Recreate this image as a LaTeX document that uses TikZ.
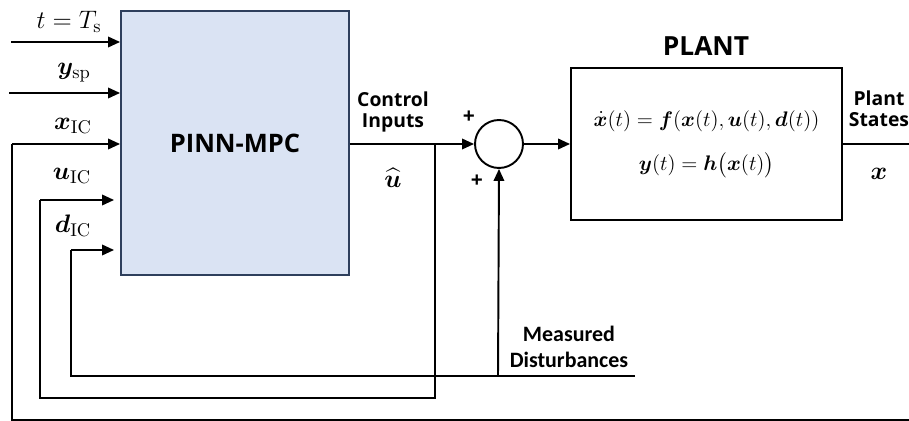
\documentclass[tikz,border=0pt]{standalone}
\usepackage{amsmath}
\usepackage{bm}
\usepackage{fontspec}
\usepackage{tikz}
\usetikzlibrary{arrows.meta,positioning,calc}
\newfontfamily\opensans{Open Sans}
\newfontfamily\carlito{Carlito}
\definecolor{mpcfill}{HTML}{DAE3F3}
\definecolor{mpcline}{HTML}{2E3F5C}

\begin{document}
\begin{tikzpicture}[
  x=0.02cm, y=-0.02cm,
  line width=1.1pt,
  arr/.style={-{Triangle[length=2.4mm,width=2.1mm]}},
  blockbox/.style={draw, rectangle, inner sep=0pt},
  lbl/.style={font=\opensans\bfseries\fontsize{11}{13}\selectfont, align=center},
  mlbl/.style={font=\fontsize{15}{16}\selectfont, inner sep=1pt}
]
\useasboundingbox (0,0) rectangle (909,421);

% blocks
\node[blockbox, fill=mpcfill, draw=mpcline, minimum width=4.56cm, minimum height=5.28cm,
  font=\opensans\bfseries\fontsize{14.5}{16}\selectfont] (mpc) at (235,143) {PINN-MPC};
\node[blockbox, minimum width=5.42cm, minimum height=3.04cm, align=center,
  font=\fontsize{12.3}{25}\selectfont] (plant) at (706.5,144)
  {$\dot{\bm{x}}(t) = \bm{f}(\bm{x}(t),\bm{u}(t),\bm{d}(t))$\\
   $\bm{y}(t) = \bm{h}\big(\bm{x}(t)\big)$};
\node[draw, circle, minimum size=0.96cm, inner sep=0pt] (sum) at (499,144) {};

\node[font=\opensans\bfseries\fontsize{15}{17}\selectfont] (ptitle) at (706,46) {PLANT};

% inputs to the controller
\coordinate (tin) at (11,42);
\coordinate (yin) at (9,93);
\coordinate (xin) at (12,420);
\coordinate (uin) at (40,398);
\coordinate (din) at (71,376);
\coordinate (xup) at (12,144);
\coordinate (uup) at (40,200);
\coordinate (dup) at (71,250);

\node[mlbl] (tlbl) at (69,22) {$t = T_{\mathrm{s}}$};
\node[mlbl] (ylbl) at (74,73) {$\bm{y}_{\mathrm{sp}}$};
\node[mlbl] (xlbl) at (73,126) {$\bm{x}_{\mathrm{IC}}$};
\node[mlbl] (ulbl) at (72,176) {$\bm{u}_{\mathrm{IC}}$};
\node[mlbl] (dlbl) at (73,226) {$\bm{d}_{\mathrm{IC}}$};

\draw[arr] (tin) -- (tin -| mpc.west);
\draw[arr] (yin) -- (yin -| mpc.west);
\draw[arr] (xup) -- (xup -| mpc.west);
\draw[arr] (uup) -- ([xshift=-0.12cm]uup -| mpc.west);
\draw[arr] (dup) -- ([xshift=-0.12cm]dup -| mpc.west);

% control inputs and summing junction
\coordinate (uhat) at (435,144);
\node[lbl] (ctl) at (393,112) {Control\\[-1pt]Inputs};
\node[font=\fontsize{15}{16}\selectfont, inner sep=1pt] (uhlbl) at (393,178) {$\widehat{\bm{u}}$};
\node[font=\opensans\bfseries\fontsize{12}{14}\selectfont] (plus1) at (469,117) {+};
\node[font=\opensans\bfseries\fontsize{12}{14}\selectfont] (plus2) at (477,181) {+};

\draw[arr] (mpc.east |- sum.west) -- (sum.west);
\draw[arr] (sum.east) -- (plant.west |- sum.east);

% measured disturbances
\coordinate (mdend) at (635,376);
\coordinate (mdup) at (498,376);
\node[font=\carlito\bfseries\fontsize{12.5}{14}\selectfont, align=center] (mdlbl) at (569,347)
  {Measured\\[1pt]Disturbances};
\draw[arr] (mdup) -- (sum.south);
\draw (mdend) -- (din) -- (dup);

% feedback of the control inputs
\draw (uhat) |- (uin) -- (uup);

% plant states
\coordinate (xout) at (909,144);
\coordinate (xbot) at (909,420);
\node[lbl] (pst) at (879,109) {Plant\\[-1pt]States};
\node[font=\fontsize{15}{16}\selectfont, inner sep=1pt] (xlbl2) at (879,174) {$\bm{x}$};
\draw (plant.east) -- (xout);
\draw (xbot) -- (xin) -- (xup);
\end{tikzpicture}
\end{document}
